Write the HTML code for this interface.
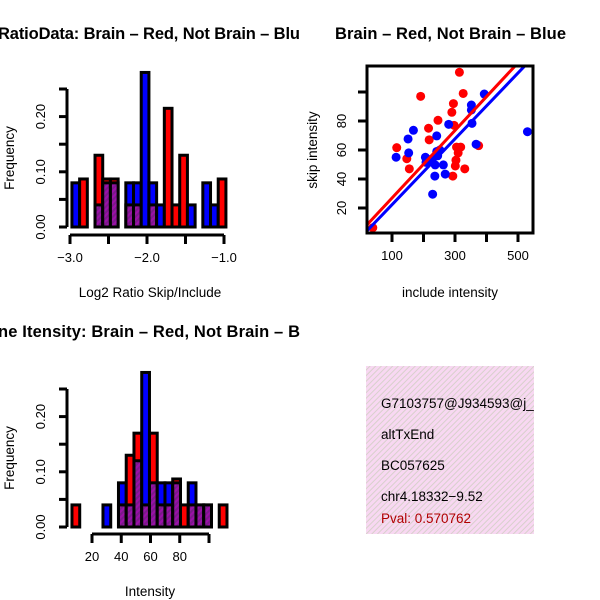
<!DOCTYPE html>
<html><head><meta charset="utf-8"><style>
html,body{margin:0;padding:0;background:#fff}
svg{display:block;font-family:"Liberation Sans",sans-serif}
</style></head><body>
<svg id="s" width="600" height="600" viewBox="0 0 600 600" xmlns="http://www.w3.org/2000/svg">
<defs>
<pattern id="hatch" width="4" height="4" patternUnits="userSpaceOnUse" patternTransform="rotate(45)">
<rect width="4" height="4" fill="#9b10a8"/><rect width="2" height="4" fill="#7a1a8a"/></pattern>
<pattern id="pink" width="4" height="4" patternUnits="userSpaceOnUse" patternTransform="rotate(45)">
<rect width="4" height="4" fill="#f8d8f2"/><rect width="1" height="4" fill="#d8d0cc"/></pattern>
</defs>
<rect width="600" height="600" fill="#fff"/>
<text x="-2" y="39" font-size="16.5" font-weight="bold" textLength="302">RatioData: Brain – Red, Not Brain – Blu</text>
<text x="335" y="39" font-size="16.5" font-weight="bold" textLength="231">Brain – Red, Not Brain – Blue</text>
<text x="-2" y="337" font-size="16.5" font-weight="bold" textLength="302">ne Itensity: Brain – Red, Not Brain – B</text>
<g id="g1"></g>
<g id="g2"></g>
<g id="g3"></g>
<g>
<rect x="366" y="366" width="168" height="168" fill="url(#pink)"/>
<text x="381" y="408" font-size="13.5">G7103757@J934593@j_</text>
<text x="381" y="439" font-size="13.5">altTxEnd</text>
<text x="381" y="470" font-size="13.5">BC057625</text>
<text x="381" y="501" font-size="13.5">chr4.18332−9.52</text>
<text x="381" y="523" font-size="13.5" fill="#b00000">Pval: 0.570762</text>
</g>
</svg>
<script>
// Ratio histogram data
const ratioBins = [-2.975,-2.875,-2.775,-2.675,-2.575,-2.475,-2.375,-2.275,-2.175,-2.075,-1.975,-1.875,-1.775,-1.675,-1.575,-1.475,-1.375,-1.275,-1.175,-1.075];
const ratioBlue = [0.08,0,0,0.04,0.08,0.08,0,0.08,0.08,0.28,0.08,0.04,0,0,0,0.04,0,0.08,0.04,0];
const ratioRed  = [0,0.087,0,0.13,0.087,0.087,0,0.04,0.04,0,0.04,0,0.215,0.04,0.13,0,0,0,0,0.087];
const ratioXTicks = [-3.0,-2.5,-2.0,-1.5,-1.0];
const ratioXLabels = ["−3.0","","−2.0","","−1.0"];
// Intensity histogram data
const intBins = [6.3,11.6,16.9,22.2,27.5,32.8,38.1,43.4,48.7,54.0,59.3,64.6,69.9,75.2,80.5,85.8,91.1,96.4,101.7,107.0];
const intBlue = [0,0,0,0,0.04,0,0.08,0.04,0.12,0.28,0.08,0.08,0.08,0.08,0,0.08,0.04,0.04,0,0];
const intRed  = [0.04,0,0,0,0,0,0.04,0.13,0.17,0.04,0.17,0.04,0.04,0.087,0.04,0.04,0.04,0.04,0,0.04];
const intXTicks = [20,40,60,80,100];
const intXLabels = ["20","40","60","80",""];
const freqTicks = [0,0.05,0.1,0.15,0.2,0.25];
const freqLabels = ["0.00","","0.10","","0.20",""];
// Scatter data
const redX = [39,115,147,155,191,216,218,246,290,295,297,293,301,303,305,310,314,318,326,331,375];
const redY = [6.4,61.6,54,47,97,75,67,80.5,86,92,77,42,49,53,62,58,113.6,62,99,47,63];
const blueX = [113,153,151,168,206,208,242,229,236,237,242,252,263,269,280,352,352,354,367,393,530,228,245];
const blueY = [55,58,67.6,73.6,55,51.5,69.7,29.5,42,49.7,59,60,49.7,43.4,77.7,91,87.6,78.4,64,98.6,72.6,54,56];
const fitSlope = [0.233,0.227];   // red, blue
const fitIntercept = [3.6,-0.4];
const scXTicks = [100,200,300,400,500];
const scXLabels = ["100","","300","","500"];
const scYTicks = [20,40,60,80,100];
const scYLabels = ["20","40","60","80",""];

const NS="http://www.w3.org/2000/svg";
function mk(parent,tag,attrs,text){const e=document.createElementNS(NS,tag);for(const k in attrs)e.setAttribute(k,attrs[k]);if(text!==undefined)e.textContent=text;parent.appendChild(e);return e;}

function histogram(g,bins,blue,red,binW,xs,ys,x0,xTicks,xLabels,axisY,xTitle,xTitleY,axStart,axEnd){
  const base=ys(0);
  for(let i=0;i<bins.length;i++){
    const b=blue[i],r=red[i];const hi=Math.max(b,r),lo=Math.min(b,r);
    if(hi<=0)continue;
    const x=xs(bins[i]),w=xs(bins[i]+binW)-xs(bins[i]);
    const main=mk(g,'rect',{x:x,y:ys(hi),width:w,height:base-ys(hi),fill:b>r?'#0000ff':'#ff0000',stroke:'#000','stroke-width':3});
    
    
    if(lo>0){
      const p=mk(g,'rect',{x:x,y:ys(lo),width:w,height:base-ys(lo),fill:'url(#hatch)',stroke:'#000','stroke-width':3});
      
      
    }
  }
  const ya=mk(g,'line',{x1:67,x2:67,y1:ys(0),y2:ys(0.25),stroke:'#000','stroke-width':3});
  
  
  freqTicks.forEach((t,i)=>{
    mk(g,'line',{x1:59,x2:67,y1:ys(t),y2:ys(t),stroke:'#000','stroke-width':3});
    if(freqLabels[i]){const tl=mk(g,'text',{x:0,y:0,'font-size':13,'text-anchor':'middle',transform:`translate(45,${ys(t)}) rotate(-90)`},freqLabels[i]);
      
      }
  });
  const yt=mk(g,'text',{x:0,y:0,'font-size':13.5,'text-anchor':'middle',transform:`translate(14,${ys(0.125)}) rotate(-90)`},'Frequency');
  
  
  const xa=mk(g,'line',{x1:xs(axStart),x2:xs(axEnd),y1:axisY,y2:axisY,stroke:'#000','stroke-width':3});
  
  
  xTicks.forEach((t,i)=>{
    mk(g,'line',{x1:xs(t),x2:xs(t),y1:axisY,y2:axisY+9,stroke:'#000','stroke-width':3});
    if(xLabels[i]){const tl=mk(g,'text',{x:xs(t),y:axisY+27,'font-size':13,'text-anchor':'middle'},xLabels[i]);
      
      }
  });
  const xt=mk(g,'text',{x:150,y:xTitleY,'font-size':13.5,'text-anchor':'middle'},xTitle);
  
  
}
{
  const xs=v=>70+(v+3)*77, ys=v=>227-v*552;
  histogram(document.getElementById('g1'),ratioBins,ratioBlue,ratioRed,0.1,xs,ys,0,ratioXTicks,ratioXLabels,235,'Log2 Ratio Skip/Include',297,-3,-1);
}
{
  const xs=v=>92+(v-20)*1.4625, ys=v=>527-v*552;
  histogram(document.getElementById('g3'),intBins,intBlue,intRed,5.3,xs,ys,0,intXTicks,intXLabels,534,'Intensity',596,20,100);
}
{
  const g=document.getElementById('g2');
  const xs=v=>392+(v-100)*0.315, ys=v=>208-(v-20)*1.45;
  const L=367,R=533,T=66,B=233;
  const clip=mk(g,'clipPath',{id:'scclip'});mk(clip,'rect',{x:L,y:T,width:R-L,height:B-T});
  const pg=mk(g,'g',{'clip-path':'url(#scclip)'});
  redX.forEach((x,i)=>{const c=mk(pg,'circle',{cx:xs(x),cy:ys(redY[i]),r:4.5,fill:'#ff0000'});
    
    });
  blueX.forEach((x,i)=>{const c=mk(pg,'circle',{cx:xs(x),cy:ys(blueY[i]),r:4.5,fill:'#0000ff'});
    
    });
  const cols=['#ff0000','#0000ff'];
  [1,0].forEach(k=>{const l=mk(pg,'line',{x1:xs(0),y1:ys(fitIntercept[k]),x2:xs(600),y2:ys(fitIntercept[k]+fitSlope[k]*600),stroke:cols[k],'stroke-width':3});
    
    });
  const fr=mk(g,'rect',{x:L,y:T,width:R-L,height:B-T,fill:'none',stroke:'#000','stroke-width':3});
  
  
  scXTicks.forEach((t,i)=>{mk(g,'line',{x1:xs(t),x2:xs(t),y1:B,y2:B+9,stroke:'#000','stroke-width':3});
    if(scXLabels[i]){const tl=mk(g,'text',{x:xs(t),y:B+27,'font-size':13,'text-anchor':'middle'},scXLabels[i]);
      
      }});
  scYTicks.forEach((t,i)=>{mk(g,'line',{x1:L-9,x2:L,y1:ys(t),y2:ys(t),stroke:'#000','stroke-width':3});
    if(scYLabels[i]){const tl=mk(g,'text',{x:0,y:0,'font-size':13,'text-anchor':'middle',transform:`translate(346,${ys(t)}) rotate(-90)`},scYLabels[i]);
      
      }});
  const xt=mk(g,'text',{x:450,y:297,'font-size':13.5,'text-anchor':'middle'},'include intensity');
  
  
  const yt=mk(g,'text',{x:0,y:0,'font-size':13.5,'text-anchor':'middle',transform:'translate(317,150) rotate(-90)'},'skip intensity');
  
  
}
</script>
</body></html>
